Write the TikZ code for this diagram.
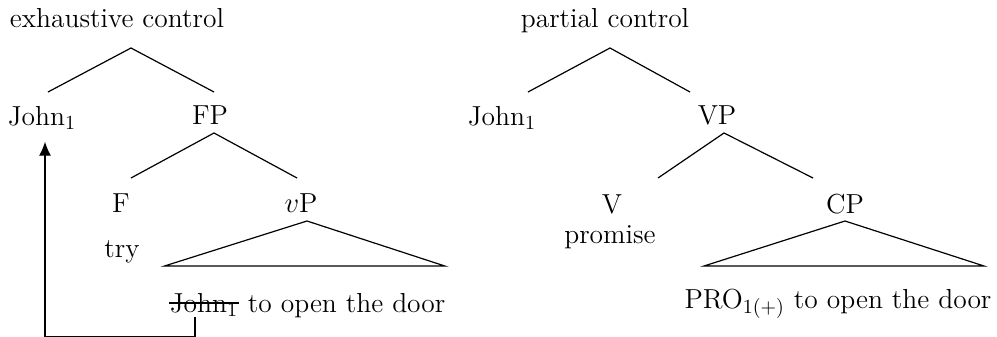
\documentclass[tikz,border=0pt]{standalone}
\usetikzlibrary{arrows.meta,positioning}
\begin{document}
\begin{tikzpicture}[
        x=0.5pt, y=-0.5pt,
        every node/.style={inner sep=0pt, anchor=base, font=\fontsize{13.75}{17}\selectfont},
        branch/.style={draw, line width=0.6pt},
        move/.style={draw, line width=0.6pt, -{Latex[length=7pt,width=6pt]}, shorten >=6pt}
    ]
        \useasboundingbox (0,0) rectangle (997,337);

        % exhaustive control
        \node (ex) at (117,27) {exhaustive control};
        \node (jl) at (42,125) {John$_1$};
        \node (fp) at (210,124) {FP};
        \node (f) at (121,212) {F};
        \node (vp) at (301,212) {$v$P};
        \node (try) at (122,257) {try};
        \node (trace) at (204,312) {John$_1$};
        \node [base right=4.5pt of trace] (rest) {to open the door};

        \draw [branch] ([shift={(6,-33)}]jl.base) -- ([shift={(14,21)}]ex.base) -- ([shift={(4,-32)}]fp.base);
        \draw [branch] ([shift={(10,-34)}]f.base) -- ([shift={(4,9)}]fp.base) -- ([shift={(-4,-34)}]vp.base);
        \draw [branch] ([shift={(-5,-46)}]trace.base west) -- ([shift={(6,9)}]vp.base) -- ([shift={(-1,-46)}]rest.base east) -- cycle;
        \draw [branch] ([yshift=4.5pt]trace.base west) -- ([yshift=4.5pt]trace.base east); % struck copy
        \draw [move] ([xshift=-4.5pt]trace.south) -- ++(0,20) -| ([xshift=1.5pt]jl.south);

        % partial control
        \node (pc) at (605,27) {partial control};
        \node (jr) at (502,125) {John$_1$};
        \node (vp2) at (717,124) {VP};
        \node (v) at (612,213) {V};
        \node (prom) at (610,243) {promise};
        \node (cp) at (845,213) {CP};
        \node (pro) at (838,308) {PRO$_{1(+)}$ to open the door};

        \draw [branch] ([shift={(26,-33)}]jr.base) -- ([shift={(5,21)}]pc.base) -- ([shift={(-27,-32)}]vp2.base);
        \draw [branch] ([shift={(46,-35)}]v.base) -- ([shift={(7,9)}]vp2.base) -- ([shift={(-32,-35)}]cp.base);
        \draw [branch] ([shift={(-134,-42)}]pro.base) -- ([shift={(0,8)}]cp.base) -- ([shift={(146,-42)}]pro.base) -- cycle;
    \end{tikzpicture}
\end{document}
